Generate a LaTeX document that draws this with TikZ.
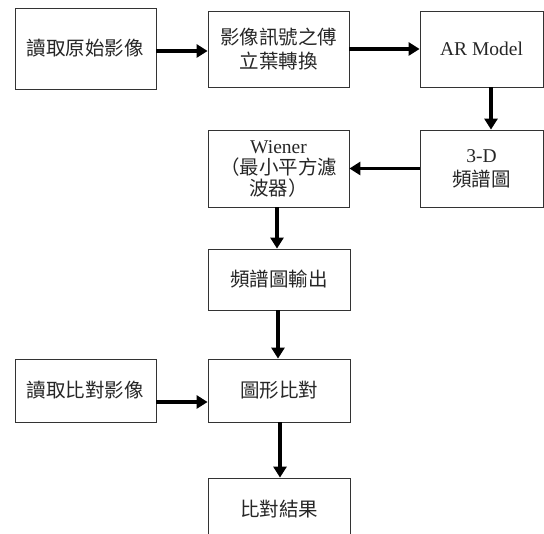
\documentclass[tikz,border=0pt]{standalone}
\usepackage{fontspec}
\setmainfont{Liberation Serif}
\newfontfamily\cjk{Noto Sans CJK TC}
\usepackage{tikz}
\usetikzlibrary{arrows.meta}

\begin{document}
\begin{tikzpicture}[x=1pt,y=-1pt,
    box/.style={draw=black!80, line width=0.8pt, rectangle, align=center, inner sep=0pt,
      text=black!85, font=\fontsize{19.5}{24}\selectfont},
    flow/.style={line width=3.5pt, -{Triangle[length=11pt,width=13pt]}}]
        \useasboundingbox (0,0) rectangle (544,534);
        \clip (0,0) rectangle (544,534);
        \node [box, minimum width=141pt, minimum height=81pt](read1) at (85.5,48.5){\cjk 讀取原始影像};
        \node [box, minimum width=141pt, minimum height=76pt](fft) at (278.5,49){\cjk 影像訊號之傅\\\cjk 立葉轉換};
        \node [box, minimum width=123pt, minimum height=76pt](ar) at (481.5,49){AR Model};
        \node [box, minimum width=123pt, minimum height=77pt](spec) at (481.5,168.5){3-D\\\cjk 頻譜圖};
        \node [box, minimum width=141pt, minimum height=77pt, font=\fontsize{19.5}{21}\selectfont](wiener) at (278.5,168.5){Wiener\\\cjk （最小平方濾\\\cjk 波器）};
        \node [box, minimum width=142pt, minimum height=61pt](out) at (279,279.5){\cjk 頻譜圖輸出};
        \node [box, minimum width=142pt, minimum height=63pt](cmp) at (279,390.5){\cjk 圖形比對};
        \node [box, minimum width=141pt, minimum height=63pt](read2) at (85.5,390.5){\cjk 讀取比對影像};
        \node [box, minimum width=142pt, minimum height=63pt](res) at (279,509.5){\cjk 比對結果};

        \draw [flow] ([yshift=-2.5pt]read1.east) -- ([yshift=-2pt]fft.west);
        \draw [flow] (fft) -- (ar);
        \draw [flow] ([xshift=9.5pt]ar.south) -- ([xshift=9.5pt]spec.north);
        \draw [flow] (spec) -- (wiener);
        \draw [flow] ([xshift=-1.5pt]wiener.south) -- ([xshift=-2pt]out.north);
        \draw [flow] ([xshift=-1pt]out.south) -- ([xshift=-1pt]cmp.north);
        \draw [flow] ([yshift=-11.5pt]read2.east) -- ([yshift=-11.5pt]cmp.west);
        \draw [flow] ([xshift=1pt]cmp.south) -- ([xshift=1pt]res.north);
      \end{tikzpicture}
\end{document}
